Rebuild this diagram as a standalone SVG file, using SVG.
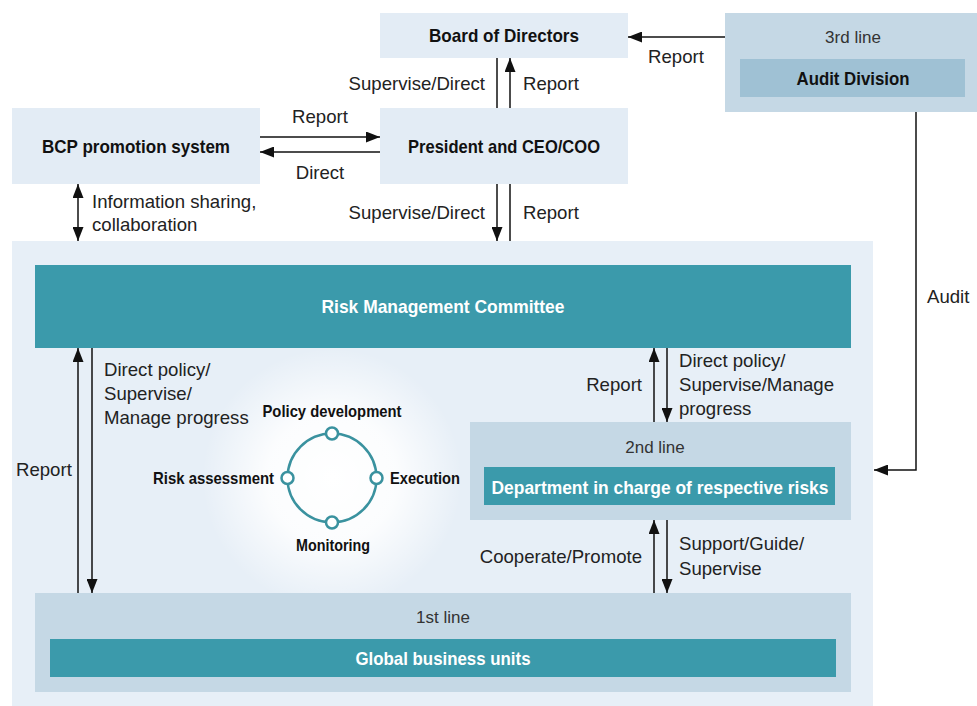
<svg xmlns="http://www.w3.org/2000/svg" width="977" height="706" viewBox="0 0 977 706">
  <defs>
    <marker id="ah" markerUnits="userSpaceOnUse" markerWidth="14" markerHeight="11" viewBox="0 0 14 11" refX="14" refY="5.5" orient="auto-start-reverse">
      <path d="M0,0 L14,5.5 L0,11 z" fill="#111"/>
    </marker>
    <radialGradient id="glow" cx="0.5" cy="0.5" r="0.5">
      <stop offset="0" stop-color="#ffffff" stop-opacity="1"/>
      <stop offset="0.5" stop-color="#ffffff" stop-opacity="0.85"/>
      <stop offset="1" stop-color="#ffffff" stop-opacity="0"/>
    </radialGradient>
    <style>
      .pale { fill: #e3ecf5; }
      .line-box { fill: #c5d8e5; }
      .teal { fill: #3b9aab; }
      .b { font-family: "Liberation Sans", Arial, sans-serif; font-weight: bold; font-size: 19px; fill: #111; }
      .bw { font-family: "Liberation Sans", Arial, sans-serif; font-weight: bold; font-size: 19px; fill: #ffffff; }
      .bs { font-family: "Liberation Sans", Arial, sans-serif; font-weight: bold; font-size: 16.5px; fill: #111; }
      .r { font-family: "Liberation Sans", Arial, sans-serif; font-size: 18.6px; fill: #222; }
      .rs { font-family: "Liberation Sans", Arial, sans-serif; font-size: 17px; fill: #333; }
      .c { stroke: #111; stroke-width: 1.5; fill: none; }
      .ring { stroke: #3a929f; stroke-width: 2.5; fill: none; }
      .dot { stroke: #3a929f; stroke-width: 2.5; fill: #ffffff; }
    </style>
  </defs>

  <!-- Risk management frame -->
  <g id="frame">
    <rect x="12" y="241" width="861" height="466" fill="#e7eff7"/>
    <circle cx="332" cy="478" r="130" fill="url(#glow)"/>
  </g>

  <g id="board">
    <rect class="pale" x="380" y="13" width="248" height="45"/>
    <text class="b" x="504" y="42" text-anchor="middle" textLength="150" lengthAdjust="spacingAndGlyphs">Board of Directors</text>
  </g>

  <g id="audit">
    <rect class="line-box" x="725" y="13" width="252" height="99"/>
    <text class="rs" x="853" y="43" text-anchor="middle">3rd line</text>
    <rect x="740" y="59" width="225" height="38" fill="#9fc1d4"/>
    <text class="b" x="853" y="85" text-anchor="middle" textLength="113" lengthAdjust="spacingAndGlyphs">Audit Division</text>
  </g>

  <g id="bcp">
    <rect class="pale" x="12" y="108" width="248" height="76"/>
    <text class="b" x="136" y="153" text-anchor="middle" textLength="188" lengthAdjust="spacingAndGlyphs">BCP promotion system</text>
  </g>

  <g id="president">
    <rect class="pale" x="380" y="108" width="248" height="76"/>
    <text class="b" x="504" y="153" text-anchor="middle" textLength="192" lengthAdjust="spacingAndGlyphs">President and CEO/COO</text>
  </g>

  <g id="rmc">
    <rect class="teal" x="35" y="265" width="816" height="83"/>
    <text class="bw" x="443" y="313" text-anchor="middle" textLength="243" lengthAdjust="spacingAndGlyphs">Risk Management Committee</text>
  </g>

  <g id="second-line">
    <rect class="line-box" x="470" y="422" width="381" height="98"/>
    <text class="rs" x="655" y="453" text-anchor="middle">2nd line</text>
    <rect class="teal" x="484" y="467" width="351" height="38"/>
    <text class="bw" x="660" y="494" text-anchor="middle" textLength="337" lengthAdjust="spacingAndGlyphs">Department in charge of respective risks</text>
  </g>

  <g id="first-line">
    <rect class="line-box" x="35" y="593" width="816" height="99"/>
    <text class="rs" x="443" y="623" text-anchor="middle">1st line</text>
    <rect class="teal" x="50" y="639" width="786" height="38"/>
    <text class="bw" x="443" y="665" text-anchor="middle" textLength="175" lengthAdjust="spacingAndGlyphs">Global business units</text>
  </g>

  <!-- Four-step risk cycle -->
  <g id="cycle">
    <circle class="ring" cx="332" cy="478" r="44.5"/>
    <circle class="dot" cx="332" cy="433.5" r="6"/>
    <circle class="dot" cx="376.5" cy="478" r="6"/>
    <circle class="dot" cx="332" cy="522.5" r="6"/>
    <circle class="dot" cx="287.5" cy="478" r="6"/>
    <text class="bs" x="332" y="417" text-anchor="middle" textLength="139" lengthAdjust="spacingAndGlyphs">Policy development</text>
    <text class="bs" x="274" y="484" text-anchor="end" textLength="121" lengthAdjust="spacingAndGlyphs">Risk assessment</text>
    <text class="bs" x="390" y="484" textLength="70" lengthAdjust="spacingAndGlyphs">Execution</text>
    <text class="bs" x="333" y="551" text-anchor="middle" textLength="74" lengthAdjust="spacingAndGlyphs">Monitoring</text>
  </g>

  <!-- Connectors -->
  <g id="connectors">
    <line class="c" x1="725" y1="37" x2="628" y2="37" marker-end="url(#ah)"/>
    <line class="c" x1="497" y1="58" x2="497" y2="108"/>
    <line class="c" x1="510" y1="108" x2="510" y2="58" marker-end="url(#ah)"/>
    <line class="c" x1="260" y1="137" x2="380" y2="137" marker-end="url(#ah)"/>
    <line class="c" x1="380" y1="152" x2="260" y2="152" marker-end="url(#ah)"/>
    <line class="c" x1="497" y1="184" x2="497" y2="241" marker-end="url(#ah)"/>
    <line class="c" x1="510" y1="184" x2="510" y2="241"/>
    <line class="c" x1="78" y1="184" x2="78" y2="241" marker-start="url(#ah)" marker-end="url(#ah)"/>
    <line class="c" x1="78" y1="593" x2="78" y2="348" marker-end="url(#ah)"/>
    <line class="c" x1="92" y1="348" x2="92" y2="593" marker-end="url(#ah)"/>
    <line class="c" x1="654" y1="422" x2="654" y2="348" marker-end="url(#ah)"/>
    <line class="c" x1="667" y1="348" x2="667" y2="422" marker-end="url(#ah)"/>
    <line class="c" x1="654" y1="593" x2="654" y2="520" marker-end="url(#ah)"/>
    <line class="c" x1="667" y1="520" x2="667" y2="593" marker-end="url(#ah)"/>
    <path class="c" d="M916,112 V470 H874" marker-end="url(#ah)"/>
  </g>

  <!-- Connector labels -->
  <g id="labels">
    <text class="r" x="676" y="63" text-anchor="middle">Report</text>
    <text class="r" x="485" y="90" text-anchor="end">Supervise/Direct</text>
    <text class="r" x="523" y="90">Report</text>
    <text class="r" x="320" y="123" text-anchor="middle">Report</text>
    <text class="r" x="320" y="179" text-anchor="middle">Direct</text>
    <text class="r" x="485" y="219" text-anchor="end">Supervise/Direct</text>
    <text class="r" x="523" y="219">Report</text>
    <text class="r" x="92" y="208">Information sharing,</text>
    <text class="r" x="92" y="231">collaboration</text>
    <text class="r" x="104" y="376">Direct policy/</text>
    <text class="r" x="104" y="400">Supervise/</text>
    <text class="r" x="104" y="424">Manage progress</text>
    <text class="r" x="16" y="476">Report</text>
    <text class="r" x="642" y="391" text-anchor="end">Report</text>
    <text class="r" x="679" y="367">Direct policy/</text>
    <text class="r" x="679" y="391">Supervise/Manage</text>
    <text class="r" x="679" y="415">progress</text>
    <text class="r" x="642" y="563" text-anchor="end">Cooperate/Promote</text>
    <text class="r" x="679" y="550">Support/Guide/</text>
    <text class="r" x="679" y="575">Supervise</text>
    <text class="r" x="927" y="303">Audit</text>
  </g>
</svg>
